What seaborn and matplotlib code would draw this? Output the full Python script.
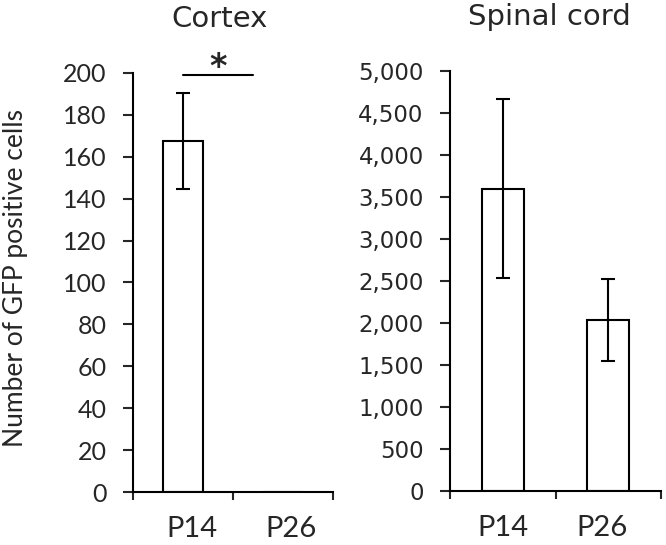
import numpy as np
import matplotlib
matplotlib.use("Agg")
import matplotlib.pyplot as plt
import matplotlib.transforms as mtransforms
import seaborn as sns
from matplotlib.ticker import FuncFormatter, FixedLocator

# Data
groups = ["P14", "P26"]
cortex_mean = [167.5, 0]
cortex_err = [22.8, 0]
spinal_mean = [3600, 2035]
spinal_err = [1063, 486]

sns.set_style("ticks")
plt.rcParams["font.family"] = ["Lato", "DejaVu Sans"]
plt.rcParams["axes.linewidth"] = 1.5

fig = plt.figure(figsize=(6.66, 5.45), dpi=100)
ax1 = fig.add_axes([0.2, 0.0972, 0.3, 0.769])
ax2 = fig.add_axes([0.6757, 0.099, 0.3168, 0.771])


def draw_panel(ax, means, errs, ymax, ystep, title, title_x):
    sns.barplot(x=groups, y=means, ax=ax, width=0.4, color="white",
                edgecolor="black", linewidth=1.5, errorbar=None)
    idx = [i for i, e in enumerate(errs) if e > 0]
    ax.errorbar(idx, [means[i] for i in idx],
                yerr=[errs[i] for i in idx], fmt="none", ecolor="black",
                elinewidth=1.5, capsize=4.7, capthick=1.5)
    ax.set_xlim(-0.5, len(groups) - 0.5)
    ax.set_ylim(0, ymax)
    ax.set_yticks(np.arange(0, ymax + 1, ystep))
    ax.xaxis.set_minor_locator(FixedLocator([-0.5, 0.5, 1.5]))
    ax.tick_params(axis="x", which="major", length=0, pad=17, labelsize=21)
    ax.tick_params(axis="x", which="minor", length=6, width=1.5, direction="out")
    ax.tick_params(axis="y", length=7, width=1.5, direction="out", pad=12)
    for s in ["top", "right"]:
        ax.spines[s].set_visible(False)
    for s in ["left", "bottom"]:
        ax.spines[s].set_color("black")
    ax.set_title(title, fontsize=21, family="DejaVu Sans", pad=33, x=title_x)


draw_panel(ax1, cortex_mean, cortex_err, 200, 20, "Cortex", 0.43)
draw_panel(ax2, spinal_mean, spinal_err, 5000, 500, "Spinal cord", 0.47)
ax2.yaxis.set_major_formatter(FuncFormatter(lambda v, p: f"{v:,.0f}"))

for lab in ax1.get_yticklabels():
    lab.set_fontfamily("Lato")
    lab.set_fontsize(18)
for lab in ax2.get_yticklabels():
    lab.set_fontfamily("DejaVu Sans")
    lab.set_fontsize(16.5)

# small horizontal nudges of category labels as in the original
shifts = [(ax1, 0, 9), (ax1, 1, 8), (ax2, 1, -6)]
for ax, i, dx in shifts:
    lab = ax.get_xticklabels()[i]
    lab.set_transform(lab.get_transform()
                      + mtransforms.ScaledTranslation(dx / 100, 0, fig.dpi_scale_trans))

ax1.set_ylabel("Number of GFP positive cells", fontsize=19)
ax1.yaxis.set_label_coords(-0.525, 0.51)

# significance marker
ax1.plot([0.0, 0.7], [199, 199], color="black", lw=1.5, clip_on=False)
ax1.text(0.35, 194.5, "*", ha="center", va="bottom", fontsize=24,
         fontweight="bold", family="DejaVu Sans", clip_on=False)

fig.savefig("out.png", dpi=100)
